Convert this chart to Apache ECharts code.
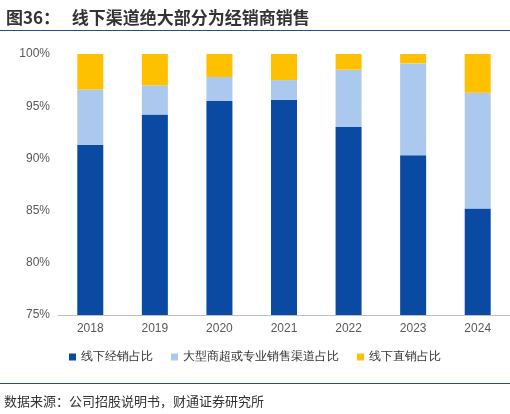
<!DOCTYPE html>
<html><head><meta charset="utf-8">
<script src="https://cdn.jsdelivr.net/npm/echarts@6/dist/echarts.min.js"></script>
<style>
body{margin:0;background:#fff;font-family:"Noto Sans CJK SC",sans-serif;overflow:hidden;}
#title{position:absolute;left:6px;top:4px;font-size:17px;font-weight:bold;color:#333;}
#tline{position:absolute;left:0;top:30px;width:510px;height:1px;background:#1f4e9c;}
#bline{position:absolute;left:0;top:383px;width:510px;height:1px;background:#1f4e9c;}
#src{position:absolute;left:4px;top:391px;font-size:13px;color:#333;}
#chart{position:absolute;left:0;top:0;width:510px;height:414px;}
</style></head>
<body>
<div id="chart"></div>
<div id="title">图36：&nbsp;&nbsp;&nbsp;线下渠道绝大部分为经销商销售</div>
<div id="tline"></div>
<div id="bline"></div>
<div id="src">数据来源：公司招股说明书，财通证券研究所</div>
<script>
const years = ['2018', '2019', '2020', '2021', '2022', '2023', '2024'];
const dealer = [91.3, 94.2, 95.5, 95.6, 93.0, 90.3, 85.2];
const retail = [5.3, 2.8, 2.3, 1.9, 5.5, 8.8, 11.1];
const direct = [3.4, 3.0, 2.2, 2.5, 1.5, 0.9, 3.7];

const chart = echarts.init(document.getElementById('chart'));
const bar = (name, data, color) => ({
  name, type: 'bar', stack: 'a', barWidth: 26, data, itemStyle: { color },
});
chart.setOption({
  animation: false,
  grid: { left: 58, right: -6, top: 54, bottom: 99 },
  legend: {
    bottom: 46, itemWidth: 7, itemHeight: 7, itemGap: 18, icon: 'rect',
    textStyle: { fontSize: 12, color: '#333' },
  },
  xAxis: {
    type: 'category', data: years,
    axisTick: { show: false },
    axisLine: { lineStyle: { color: '#bfbfbf' } },
    axisLabel: { color: '#595959', fontSize: 12 },
  },
  yAxis: {
    type: 'value', min: 75, max: 100, interval: 5,
    axisLabel: { formatter: '{value}%', color: '#595959', fontSize: 12 },
    splitLine: { show: false },
    axisLine: { show: false },
  },
  series: [
    bar('线下经销占比', dealer, '#0b4aa2'),
    bar('大型商超或专业销售渠道占比', retail, '#abc8ee'),
    bar('线下直销占比', direct, '#ffc000'),
  ],
});
</script>
</body></html>
